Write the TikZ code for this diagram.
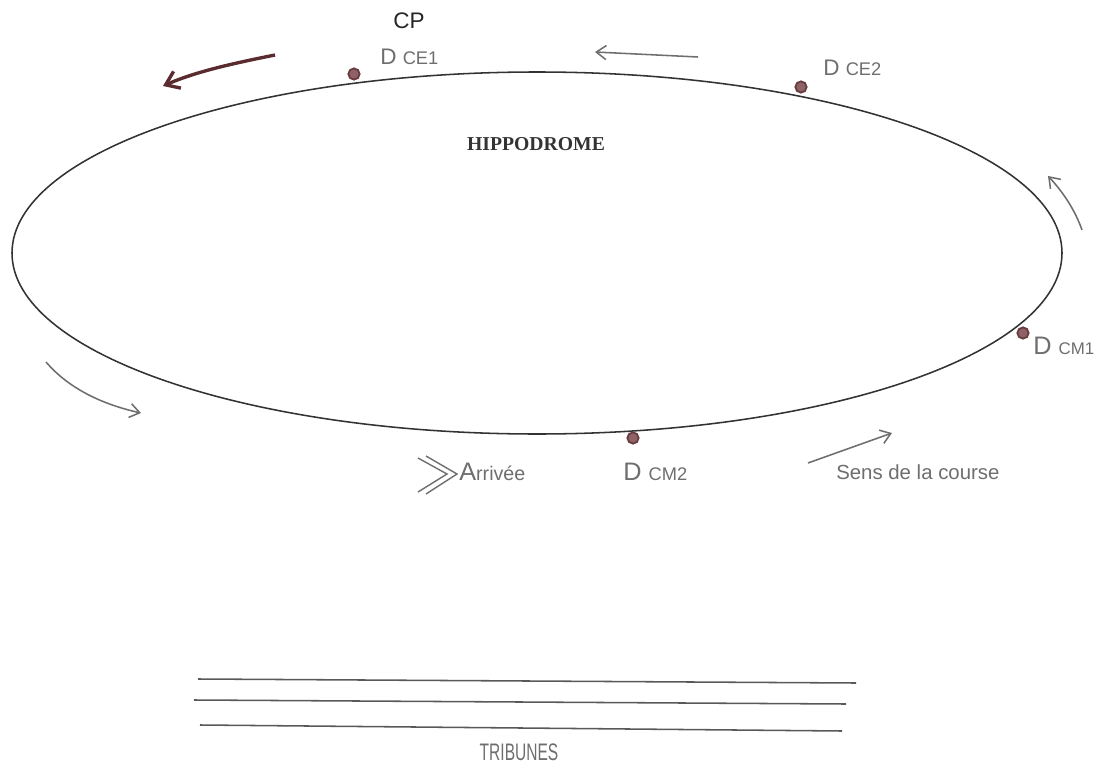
\documentclass[tikz,border=0pt]{standalone}
\usepackage{fontspec}
\setmainfont{Liberation Serif}
\newfontfamily\hand{Liberation Sans}
\usetikzlibrary{arrows.meta}
\definecolor{pen}{HTML}{6E6E6E}
\definecolor{dotc}{HTML}{6A3C40}
\definecolor{dotf}{HTML}{8E6266}
\definecolor{redpen}{HTML}{5A2C30}
\tikzset{
  handtxt/.style={text=pen, font=\hand\fontsize{13}{15}\selectfont, inner sep=0pt},
  flow/.style={draw=pen, line width=1.1pt, -{Straight Barb[length=7pt,width=10pt]}},
  post/.style={circle, draw=dotc, fill=dotf, line width=1.3pt, minimum size=8pt, inner sep=0pt},
  stand/.style={draw=black!65, line width=1.1pt},
}
\begin{document}
\begin{tikzpicture}[x=0.025cm,y=-0.025cm]
\useasboundingbox (0,0) rectangle (1120,769);
% track
\draw[line width=1.1pt, black!80] (537,253) ellipse [x radius=525, y radius=181];
\node[font=\bfseries\fontsize{14}{16}\selectfont, text=black!80] (title) at (536,144) {HIPPODROME};
% posts
\node[post] (ce1) at (354,74) {};
\node[post] (ce2) at (801,87) {};
\node[post] (cm1) at (1023,333) {};
\node[post] (cm2) at (633,438) {};
% labels
\node[text=black!85, font=\hand\fontsize{16}{18}\selectfont, inner sep=0pt] (cp) at (409,21) {CP};
\node[handtxt, anchor=west] (lce1) at (380,57) {\fontsize{16}{18}\selectfont D {\fontsize{13}{15}\selectfont CE1}};
\node[handtxt, anchor=west] (lce2) at (823,68) {\fontsize{16}{18}\selectfont D {\fontsize{13}{15}\selectfont CE2}};
\node[handtxt, anchor=west] (lcm1) at (1033,346) {\fontsize{18}{20}\selectfont D {\fontsize{12}{14}\selectfont CM1}};
\node[handtxt, anchor=west] (lcm2) at (623,472) {\fontsize{18}{20}\selectfont D {\fontsize{13}{15}\selectfont CM2}};
\node[handtxt, anchor=west] (arr) at (459,472) {\fontsize{18}{20}\selectfont A{\fontsize{14}{16}\selectfont rrivée}};
\node[handtxt, anchor=west] (sens) at (836,472) {\fontsize{14.5}{16}\selectfont Sens de la course};
% chevrons before Arrivée
\coordinate (c1a) at (418,458); \coordinate (c1b) at (447,474); \coordinate (c1c) at (418,492);
\coordinate (c2a) at (426,456); \coordinate (c2b) at (457,474); \coordinate (c2c) at (426,494);
\draw[draw=pen, line width=1pt] (c1a) -- (c1b) -- (c1c);
\draw[draw=pen, line width=1pt] (c2a) -- (c2b) -- (c2c);
% direction arrows
\coordinate (a1s) at (275,55); \coordinate (a1e) at (163,86);
\draw[draw=redpen, line width=2.4pt, -{Straight Barb[length=9pt,width=13pt]}] (a1s) .. controls (230,64) and (195,72) .. (a1e);
\coordinate (a2s) at (698,57); \coordinate (a2e) at (595,52);
\draw[flow] (a2s) -- (a2e);
\coordinate (a3s) at (1082,230); \coordinate (a3e) at (1048,176);
\draw[flow] (a3s) .. controls (1075,210) and (1063,192) .. (a3e);
\coordinate (a4s) at (46,362); \coordinate (a4e) at (141,413);
\draw[flow] (a4s) .. controls (70,390) and (105,405) .. (a4e);
\coordinate (a5s) at (808,463); \coordinate (a5e) at (892,433);
\draw[flow] (a5s) -- (a5e);
% tribunes
\coordinate (t1a) at (198,679); \coordinate (t1b) at (856,683);
\coordinate (t2a) at (194,700); \coordinate (t2b) at (846,704);
\coordinate (t3a) at (200,725); \coordinate (t3b) at (842,731);
\draw[stand] (t1a) -- (t1b);
\draw[stand] (t2a) -- (t2b);
\draw[stand] (t3a) -- (t3b);
\node[handtxt, font=\hand\fontsize{17}{19}\selectfont, text=pen, xscale=0.65] (trib) at (519,752) {TRIBUNES};
\end{tikzpicture}
\end{document}
